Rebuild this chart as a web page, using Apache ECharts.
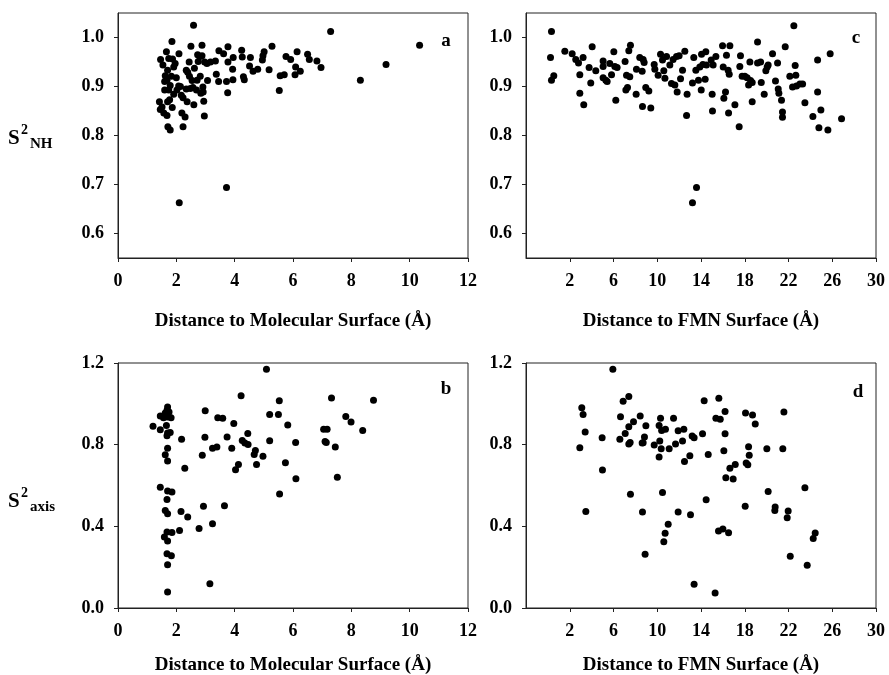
<!DOCTYPE html>
<html>
<head>
<meta charset="utf-8">
<script src="https://cdn.jsdelivr.net/npm/echarts@6/dist/echarts.min.js"></script>
<style>
  html, body { margin: 0; padding: 0; background: #fff; }
  #chart { width: 889px; height: 675px; }
</style>
</head>
<body>
<div id="chart"></div>
<script>
// Panel a: distance to molecular surface (Å) vs S2NH
const distMolA = [2.59,7.29,10.34,9.19,8.31,2.10,3.72,5.53,6.96,6.82,6.56,6.50,6.14,6.25,6.07,6.09,5.92,5.76,5.70,5.56,5.28,5.18,5.01,4.97,4.95,4.79,4.63,4.54,4.51,4.33,4.30,4.24,4.26,3.95,3.93,3.94,3.77,3.77,3.76,3.72,3.62,3.46,3.45,3.37,3.34,3.17,3.07,2.96,2.94,2.92,2.91,2.88,2.81,2.75,2.82,2.73,2.62,2.57,2.54,2.60,2.50,2.44,2.39,2.34,2.37,2.30,2.23,2.19,2.23,2.17,2.09,2.08,2.00,1.91,1.85,1.83,1.79,1.86,1.79,1.71,1.68,1.70,1.77,1.74,1.68,1.70,1.74,1.66,1.60,1.57,1.51,1.45,1.42,1.46,1.54,1.60,1.62,1.87,1.96,2.02,1.91,2.14,2.71,2.84,2.97,3.05,2.69,2.45,2.34,2.48,2.88];
const s2nhA = [1.025,1.012,0.984,0.945,0.913,0.663,0.694,0.892,0.939,0.952,0.955,0.966,0.971,0.931,0.924,0.940,0.955,0.961,0.924,0.922,0.982,0.934,0.971,0.963,0.954,0.935,0.931,0.959,0.942,0.914,0.920,0.974,0.960,0.959,0.935,0.914,0.981,0.950,0.887,0.910,0.967,0.973,0.910,0.925,0.952,0.950,0.912,0.840,0.870,0.889,0.899,0.984,0.961,0.951,0.921,0.965,0.937,0.898,0.912,0.863,0.982,0.950,0.929,0.895,0.869,0.838,0.818,0.846,0.877,0.882,0.967,0.901,0.918,0.940,0.992,0.921,0.902,0.857,0.811,0.818,0.841,0.869,0.873,0.893,0.913,0.933,0.957,0.971,0.893,0.846,0.858,0.853,0.869,0.955,0.944,0.910,0.922,0.956,0.947,0.893,0.884,0.900,0.913,0.886,0.950,0.947,0.893,0.921,0.933,0.896,0.963];

// Panel c: distance to FMN surface (Å) vs S2NH
const distFmnC = [0.33,0.24,0.33,0.54,1.55,2.22,2.55,2.80,3.22,2.92,2.92,3.28,3.77,3.92,4.05,4.38,5.05,5.05,5.05,5.30,5.42,5.66,5.82,6.03,6.12,6.33,6.21,7.06,7.19,7.13,7.28,7.40,7.55,7.49,8.07,8.10,8.40,8.62,8.71,8.80,8.65,8.95,9.23,9.41,9.72,9.78,10.08,10.30,10.48,10.60,10.70,10.85,11.15,11.30,11.45,11.61,11.76,11.82,12.00,12.13,12.31,12.52,12.68,12.73,13.22,13.34,13.53,13.77,13.89,14.05,14.02,14.17,14.38,14.44,14.50,14.93,15.02,15.05,15.11,15.36,15.97,16.03,16.09,16.24,16.33,16.48,16.58,16.52,16.64,17.10,17.49,17.55,17.61,17.76,18.01,18.22,18.35,18.47,18.53,18.68,18.68,19.17,19.17,19.45,19.51,19.78,19.93,20.05,20.14,20.54,20.81,21.00,21.06,21.12,21.36,21.45,21.45,21.70,22.12,22.37,22.49,22.61,22.67,22.73,23.04,23.29,23.50,24.23,24.66,24.66,24.78,24.96,25.60,25.81,26.85,13.22,13.59];
const s2nhC = [1.012,0.959,0.913,0.922,0.972,0.967,0.955,0.948,0.959,0.924,0.886,0.863,0.939,0.907,0.981,0.932,0.952,0.941,0.918,0.913,0.910,0.947,0.924,0.971,0.941,0.939,0.872,0.951,0.923,0.893,0.898,0.973,0.984,0.920,0.884,0.935,0.959,0.931,0.955,0.949,0.859,0.898,0.891,0.856,0.945,0.935,0.923,0.966,0.954,0.932,0.917,0.961,0.944,0.906,0.955,0.903,0.961,0.889,0.963,0.916,0.933,0.972,0.841,0.884,0.907,0.959,0.933,0.913,0.940,0.966,0.893,0.945,0.915,0.971,0.944,0.954,0.884,0.850,0.944,0.961,0.983,0.940,0.876,0.889,0.964,0.933,0.925,0.846,0.983,0.863,0.818,0.941,0.963,0.921,0.921,0.918,0.903,0.950,0.912,0.908,0.869,0.948,0.991,0.950,0.908,0.884,0.932,0.940,0.944,0.967,0.911,0.948,0.895,0.886,0.872,0.848,0.837,0.981,0.921,0.899,1.024,0.943,0.923,0.901,0.905,0.905,0.867,0.839,0.954,0.889,0.816,0.852,0.811,0.967,0.834,0.663,0.694];

// Panel b: distance to molecular surface (Å) vs S2axis
const distMolB = [5.09,4.22,5.53,7.32,8.76,2.99,1.70,1.68,1.75,1.62,1.82,1.45,1.56,1.70,3.42,3.59,5.20,5.50,7.81,3.97,5.82,7.99,1.20,1.45,1.66,1.79,1.68,1.70,2.18,2.98,3.74,4.45,4.26,4.35,4.46,5.20,6.09,7.05,7.17,7.10,7.14,8.39,7.45,3.24,3.39,3.90,4.71,4.67,4.97,2.89,1.70,1.62,1.70,4.13,4.03,4.75,5.74,2.29,6.10,7.52,5.54,1.45,1.70,1.85,1.68,2.93,3.65,1.62,1.70,2.16,2.39,3.24,2.78,2.11,1.85,1.68,1.59,1.70,1.68,1.83,1.70,3.15,1.70];
const s2axisB = [1.170,1.040,1.015,1.028,1.017,0.966,0.984,0.968,0.960,0.955,0.932,0.940,0.932,0.935,0.932,0.929,0.948,0.948,0.938,0.904,0.896,0.911,0.890,0.873,0.894,0.860,0.844,0.857,0.827,0.836,0.837,0.855,0.821,0.808,0.801,0.819,0.811,0.876,0.876,0.816,0.811,0.870,0.788,0.782,0.788,0.782,0.772,0.752,0.743,0.748,0.782,0.751,0.720,0.703,0.677,0.703,0.712,0.685,0.633,0.640,0.558,0.592,0.573,0.568,0.532,0.498,0.501,0.478,0.462,0.473,0.446,0.413,0.390,0.380,0.370,0.372,0.348,0.328,0.266,0.256,0.212,0.119,0.078];

// Panel d: distance to FMN surface (Å) vs S2axis
const distFmnD = [5.94,7.40,6.88,15.63,14.29,3.10,3.22,16.20,18.07,18.71,21.58,6.64,8.44,10.30,11.49,15.36,15.76,7.83,7.40,8.96,10.17,18.96,3.41,7.07,10.40,10.75,11.91,12.43,16.20,14.14,13.19,13.37,4.96,6.58,8.83,8.71,7.52,7.40,8.62,10.23,12.31,2.92,9.72,10.36,11.09,11.67,18.35,20.02,21.48,16.09,10.17,12.98,14.66,18.41,12.49,18.13,18.28,17.13,16.64,16.27,16.94,4.99,23.50,7.55,10.48,20.14,14.47,18.04,20.78,20.75,21.97,21.88,3.47,8.65,11.91,13.04,11.00,10.72,10.60,15.60,16.00,16.52,24.44,24.26,8.89,22.16,23.71,13.37,15.29];
const s2axisD = [1.169,1.036,1.013,1.027,1.015,0.981,0.948,0.963,0.955,0.945,0.960,0.937,0.940,0.930,0.930,0.930,0.925,0.912,0.888,0.893,0.894,0.901,0.862,0.855,0.870,0.875,0.868,0.875,0.854,0.854,0.842,0.834,0.834,0.826,0.837,0.810,0.811,0.803,0.808,0.818,0.818,0.785,0.798,0.780,0.780,0.803,0.790,0.780,0.780,0.770,0.739,0.746,0.752,0.748,0.718,0.710,0.702,0.703,0.684,0.638,0.632,0.676,0.589,0.557,0.566,0.571,0.530,0.498,0.495,0.478,0.475,0.442,0.473,0.470,0.470,0.457,0.410,0.366,0.325,0.377,0.387,0.369,0.367,0.341,0.263,0.253,0.209,0.116,0.073];

// Tick values
const ticksMol = [0, 2, 4, 6, 8, 10, 12];
const ticksFmn = [2, 6, 10, 14, 18, 22, 26, 30];
const ticksNH = [0.6, 0.7, 0.8, 0.9, 1.0];
const ticksAxis = [0.0, 0.4, 0.8, 1.2];

// Axis and panel texts
const titleMol = 'Distance to Molecular Surface (Å)';
const titleFmn = 'Distance to FMN Surface (Å)';
const panelTags = ['a', 'c', 'b', 'd'];

const FONT = '"Liberation Serif", "Times New Roman", serif';
const labelStyle = { fontFamily: FONT, fontWeight: 'bold', fontSize: 18, color: '#000' };

const chart = echarts.init(document.getElementById('chart'), null, { renderer: 'canvas' });

function pairs(xs, ys) { return xs.map((x, i) => [x, ys[i]]); }

// Fixed plot boxes; labels may sit close to the canvas edge without shrinking them
const grids = [
  { left: 118, top: 13, width: 350, height: 245 },
  { left: 526, top: 13, width: 350, height: 245 },
  { left: 118, top: 363, width: 350, height: 245 },
  { left: 526, top: 363, width: 350, height: 245 }
].map(g => Object.assign(g, {
  show: true, borderColor: '#222', borderWidth: 1, backgroundColor: 'transparent',
  containLabel: false, outerBoundsMode: 'none'
}));

function xAxisDef(gi, min, max, ticks, name, gap) {
  return {
    gridIndex: gi, type: 'value', min: min, max: max,
    name: name, nameLocation: 'middle', nameGap: gap,
    nameTextStyle: { fontFamily: FONT, fontWeight: 'bold', fontSize: 19, color: '#000' },
    axisLine: { show: true, onZero: false, lineStyle: { color: '#222', width: 1 } },
    axisTick: { show: true, inside: false, length: 4, customValues: ticks, lineStyle: { color: '#222' } },
    axisLabel: Object.assign({ margin: 14, customValues: ticks, formatter: v => String(Math.round(v)) }, labelStyle),
    splitLine: { show: false }
  };
}

function yAxisDef(gi, min, max, ticks) {
  return {
    gridIndex: gi, type: 'value', min: min, max: max,
    axisLine: { show: true, onZero: false, lineStyle: { color: '#222', width: 1 } },
    axisTick: { show: true, inside: false, length: 4, customValues: ticks, lineStyle: { color: '#222' } },
    axisLabel: Object.assign({ margin: 14, customValues: ticks, formatter: v => v.toFixed(1) }, labelStyle),
    splitLine: { show: false }
  };
}

const datasets = [
  pairs(distMolA, s2nhA),
  pairs(distFmnC, s2nhC),
  pairs(distMolB, s2axisB),
  pairs(distFmnD, s2axisD)
];

const tagPos = [[446, 41], [856, 38], [446, 389], [858, 392]];

const option = {
  backgroundColor: '#fff',
  animation: false,
  grid: grids,
  xAxis: [
    xAxisDef(0, 0, 12, ticksMol, titleMol, 54),
    xAxisDef(1, -2, 30, ticksFmn, titleFmn, 54),
    xAxisDef(2, 0, 12, ticksMol, titleMol, 48),
    xAxisDef(3, -2, 30, ticksFmn, titleFmn, 48)
  ],
  yAxis: [
    yAxisDef(0, 0.55, 1.05, ticksNH),
    yAxisDef(1, 0.55, 1.05, ticksNH),
    yAxisDef(2, 0, 1.2, ticksAxis),
    yAxisDef(3, 0, 1.2, ticksAxis)
  ],
  series: datasets.map((d, i) => ({
    type: 'scatter', xAxisIndex: i, yAxisIndex: i,
    data: d, symbol: 'circle', symbolSize: 7,
    itemStyle: { color: '#000', opacity: 1 },
    silent: true
  })),
  graphic: [
    // Y-axis titles: S2NH and S2axis
    { type: 'text', left: 8, top: 128, style: { text: 'S', font: 'bold 21px ' + FONT, fill: '#000' } },
    { type: 'text', left: 21, top: 123, style: { text: '2', font: 'bold 14px ' + FONT, fill: '#000' } },
    { type: 'text', left: 30, top: 137, style: { text: 'NH', font: 'bold 15px ' + FONT, fill: '#000' } },
    { type: 'text', left: 8, top: 491, style: { text: 'S', font: 'bold 21px ' + FONT, fill: '#000' } },
    { type: 'text', left: 21, top: 486, style: { text: '2', font: 'bold 14px ' + FONT, fill: '#000' } },
    { type: 'text', left: 30, top: 500, style: { text: 'axis', font: 'bold 15px ' + FONT, fill: '#000' } }
  ].concat(panelTags.map((t, i) => ({
    type: 'text', x: tagPos[i][0], y: tagPos[i][1],
    style: { text: t, font: 'bold 19px ' + FONT, fill: '#000', align: 'center', verticalAlign: 'middle' }
  })))
};

chart.setOption(option);
</script>
</body>
</html>
